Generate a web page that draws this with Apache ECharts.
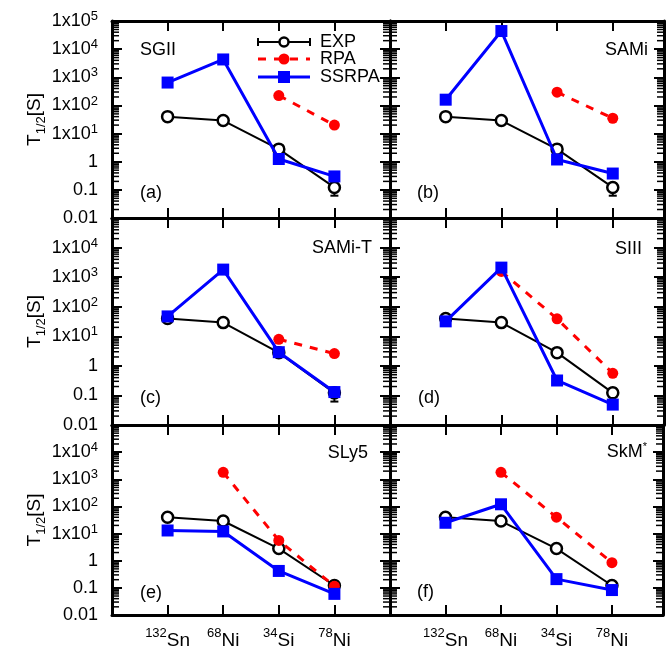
<!DOCTYPE html>
<html>
<head>
<meta charset="utf-8">
<script src="https://cdn.jsdelivr.net/npm/echarts@6/dist/echarts.min.js"></script>
<style>
html, body { margin: 0; padding: 0; background: #fff; }
#chart { width: 666px; height: 655px; }
</style>
</head>
<body>
<div id="chart"></div>
<script>
// nuclei on the x axis, placed at x = 1..4
var nucleiMass = ["132", "68", "34", "78"];
var nucleiSym = ["Sn", "Ni", "Si", "Ni"];

var panelNames = ["SGII", "SAMi", "SAMi-T", "SIII", "SLy5", "SkM{sup|*}"];
var panelTags = ["(a)", "(b)", "(c)", "(d)", "(e)", "(f)"];

// experimental half-lives (s), same in every panel
var expData = [40, 29, 2.8, 0.122];
var expErrLow = [null, null, null, 0.062];
var expErrHigh = [null, null, null, 0.173];

// RPA half-lives per interaction
var rpaSGII = [null, null, 225, 20];
var rpaSAMi = [null, null, 295, 35];
var rpaSAMiT = [null, null, 7.9, 2.6];
var rpaSIII = [null, 1560, 39, 0.56];
var rpaSLy5 = [null, 1800, 5.6, 0.115];
var rpaSkM = [null, 1800, 40, 0.85];

// SSRPA half-lives per interaction
var ssrpaSGII = [650, 4300, 1.25, 0.3];
var ssrpaSAMi = [160, 44000, 1.2, 0.38];
var ssrpaSAMiT = [47, 1800, 2.9, 0.13];
var ssrpaSIII = [32, 2100, 0.32, 0.049];
var ssrpaSLy5 = [13, 12, 0.42, 0.06];
var ssrpaSkM = [25, 120, 0.21, 0.083];

var rpaAll = [rpaSGII, rpaSAMi, rpaSAMiT, rpaSIII, rpaSLy5, rpaSkM];
var ssrpaAll = [ssrpaSGII, ssrpaSAMi, ssrpaSAMiT, ssrpaSIII, ssrpaSLy5, ssrpaSkM];

// log minor ticks 2..9 in each decade
var minorSteps = [2, 3, 4, 5, 6, 7, 8, 9];
var decades = [0.01, 0.1, 1, 10, 100, 1000, 10000];

var FONT = "'Liberation Sans', Arial, sans-serif";

var rowTop = [21, 218, 425];
var rowH = [197, 207, 193];
var colLeft = [112, 390];
var colW = [278, 274];
var colXMax = [5, 4.92];

function toPairs(arr) {
  var out = [];
  arr.forEach(function (v, i) {
    if (v != null) out.push([i + 1, v]);
  });
  return out;
}

function yLabel(v) {
  var e = Math.round(Math.log10(v));
  if (e < 0) return e === -1 ? "0.1" : "0.01";
  if (e === 0) return "1";
  return "1x10{sup|" + e + "}";
}

var grids = [], xAxes = [], yAxes = [], series = [];

for (var p = 0; p < 6; p++) {
  var col = p % 2, row = Math.floor(p / 2);
  grids.push({ left: colLeft[col], top: rowTop[row], width: colW[col], height: rowH[row] });

  var frame = { show: true, onZero: false, lineStyle: { color: "#000", width: 3 } };
  var tick = { show: true, inside: true, length: 10, lineStyle: { color: "#000", width: 2 } };

  ["bottom", "top"].forEach(function (pos) {
    xAxes.push({
      type: "value", gridIndex: p, position: pos, min: 0, max: colXMax[col], interval: 1,
      axisLine: frame, axisTick: tick, splitLine: { show: false },
      axisLabel: {
        show: pos === "bottom" && row === 2, margin: 12,
        color: "#000", fontFamily: FONT, fontSize: 19, lineHeight: 28,
        formatter: function (v) {
          var i = Math.round(v) - 1;
          if (i < 0 || i > 3 || Math.abs(v - i - 1) > 0.01) return "";
          return "{sup|" + nucleiMass[i] + "}" + nucleiSym[i];
        },
        rich: { sup: { fontSize: 13, lineHeight: 13, verticalAlign: "top", color: "#000", fontFamily: FONT } }
      }
    });
  });

  (function (row, col) {
    ["left", "right"].forEach(function (pos) {
      var showLab = pos === "left" && col === 0;
      yAxes.push({
        type: "log", logBase: 10, gridIndex: p, position: pos, min: 0.01, max: 100000,
        axisLine: frame, axisTick: tick, splitLine: { show: false },
        name: showLab ? "T{sub|1/2}[S]" : "",
        nameLocation: "middle", nameGap: 64, nameRotate: 90,
        nameTextStyle: {
          color: "#000", fontFamily: FONT, fontSize: 19,
          rich: { sub: { fontSize: 13, verticalAlign: "bottom", lineHeight: 14, padding: [0, 0, -4, 0], color: "#000", fontFamily: FONT } }
        },
        axisLabel: {
          show: showLab, margin: 14, color: "#000", fontFamily: FONT, fontSize: 18, lineHeight: 22,
          formatter: function (v) {
            if (row > 0 && v > 50000) return "";
            return yLabel(v);
          },
          rich: { sup: { fontSize: 13, lineHeight: 13, verticalAlign: "top", color: "#000", fontFamily: FONT } }
        }
      });
    });
  })(row, col);

  var xi = 2 * p, yi = 2 * p;

  // minor ticks on left and right frame
  var minorData = [];
  decades.forEach(function (d) {
    minorSteps.forEach(function (s) { minorData.push([0, d * s, colXMax[col]]); });
  });
  series.push({
    type: "custom", xAxisIndex: xi, yAxisIndex: yi, silent: true, clip: false, z: 6,
    data: minorData,
    renderItem: function (params, api) {
      var a = api.coord([0, api.value(1)]);
      var b = api.coord([api.value(2), api.value(1)]);
      var st = { stroke: "#000", lineWidth: 1.5 };
      return {
        type: "group", children: [
          { type: "line", shape: { x1: a[0], y1: a[1], x2: a[0] + 7, y2: a[1] }, style: st },
          { type: "line", shape: { x1: b[0] - 7, y1: b[1], x2: b[0], y2: b[1] }, style: st }
        ]
      };
    }
  });

  // EXP error bar
  var errData = [];
  expErrLow.forEach(function (lo, i) {
    if (lo != null) errData.push([i + 1, lo, expErrHigh[i]]);
  });
  series.push({
    type: "custom", xAxisIndex: xi, yAxisIndex: yi, silent: true, z: 2,
    data: errData,
    renderItem: function (params, api) {
      var a = api.coord([api.value(0), api.value(1)]);
      var b = api.coord([api.value(0), api.value(2)]);
      var st = { stroke: "#000", lineWidth: 2 };
      return {
        type: "group", children: [
          { type: "line", shape: { x1: a[0], y1: a[1], x2: b[0], y2: b[1] }, style: st },
          { type: "line", shape: { x1: a[0] - 4, y1: a[1], x2: a[0] + 4, y2: a[1] }, style: st },
          { type: "line", shape: { x1: b[0] - 4, y1: b[1], x2: b[0] + 4, y2: b[1] }, style: st }
        ]
      };
    }
  });

  series.push({
    name: "EXP", type: "line", xAxisIndex: xi, yAxisIndex: yi, z: 3,
    data: toPairs(expData),
    lineStyle: { color: "#000", width: 2 },
    symbol: "circle", symbolSize: 11,
    itemStyle: { color: "#fff", borderColor: "#000", borderWidth: 2.5 }
  });
  series.push({
    name: "RPA", type: "line", xAxisIndex: xi, yAxisIndex: yi, z: 4,
    data: toPairs(rpaAll[p]),
    lineStyle: { color: "#ff0000", width: 3, type: [8, 8] },
    symbol: "circle", symbolSize: 11,
    itemStyle: { color: "#ff0000" }
  });
  series.push({
    name: "SSRPA", type: "line", xAxisIndex: xi, yAxisIndex: yi, z: 5,
    data: toPairs(ssrpaAll[p]),
    lineStyle: { color: "#0000ff", width: 3 },
    symbol: "rect", symbolSize: 12,
    itemStyle: { color: "#0000ff" }
  });
}

// panel names and tags
var namePos = [
  { left: 140, top: 50, align: "left" },
  { left: 648, top: 50, align: "right" },
  { left: 372, top: 248, align: "right" },
  { left: 642, top: 249, align: "right" },
  { left: 368, top: 453, align: "right" },
  { left: 647, top: 452, align: "right" }
];
var tagPos = [[140, 193], [417, 193], [140, 398], [418, 398], [140, 593], [417, 592]];

var graphics = [];
panelNames.forEach(function (n, i) {
  graphics.push({
    type: "text", x: namePos[i].left, y: namePos[i].top, z: 10,
    style: {
      text: n, fill: "#000", font: "18px " + FONT, align: namePos[i].align, verticalAlign: "middle",
      rich: { sup: { fontSize: 11, verticalAlign: "top", lineHeight: 22, fill: "#000", fontFamily: FONT } }
    }
  });
  graphics.push({
    type: "text", x: tagPos[i][0], y: tagPos[i][1], z: 10,
    style: { text: panelTags[i], fill: "#000", font: "18px " + FONT, align: "left", verticalAlign: "middle" }
  });
});

// legend (inside panel a)
var lx1 = 258, lx2 = 310, lmid = 284;
var legendY = [42, 59, 77];
var legendNames = ["EXP", "RPA", "SSRPA"];
graphics.push(
  { type: "line", shape: { x1: lx1, y1: legendY[0], x2: lx2, y2: legendY[0] }, style: { stroke: "#000", lineWidth: 2 }, z: 10 },
  { type: "line", shape: { x1: lx1, y1: legendY[0] - 4, x2: lx1, y2: legendY[0] + 4 }, style: { stroke: "#000", lineWidth: 2 }, z: 10 },
  { type: "line", shape: { x1: lx2, y1: legendY[0] - 4, x2: lx2, y2: legendY[0] + 4 }, style: { stroke: "#000", lineWidth: 2 }, z: 10 },
  { type: "circle", shape: { cx: lmid, cy: legendY[0], r: 4.5 }, style: { fill: "#fff", stroke: "#000", lineWidth: 2.5 }, z: 11 },
  { type: "line", shape: { x1: lx1, y1: legendY[1], x2: lx2, y2: legendY[1] }, style: { stroke: "#ff0000", lineWidth: 3, lineDash: [8, 8] }, z: 10 },
  { type: "circle", shape: { cx: lmid, cy: legendY[1], r: 5.5 }, style: { fill: "#ff0000" }, z: 11 },
  { type: "line", shape: { x1: lx1, y1: legendY[2], x2: lx2, y2: legendY[2] }, style: { stroke: "#0000ff", lineWidth: 3 }, z: 10 },
  { type: "rect", shape: { x: lmid - 6, y: legendY[2] - 6, width: 12, height: 12 }, style: { fill: "#0000ff" }, z: 11 }
);
legendNames.forEach(function (n, i) {
  graphics.push({
    type: "text", x: 320, y: legendY[i], z: 10,
    style: { text: n, fill: "#000", font: "18px " + FONT, align: "left", verticalAlign: "middle" }
  });
});

var chart = echarts.init(document.getElementById("chart"));
chart.setOption({
  animation: false,
  backgroundColor: "#fff",
  textStyle: { fontFamily: FONT },
  grid: grids,
  xAxis: xAxes,
  yAxis: yAxes,
  series: series,
  graphic: graphics
});
</script>
</body>
</html>
